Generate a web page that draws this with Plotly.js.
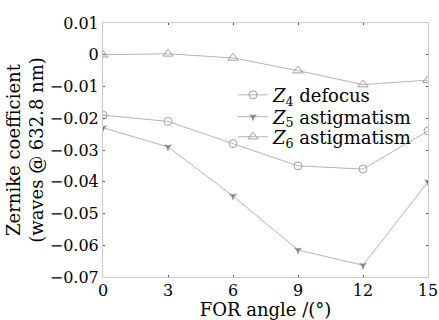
<!DOCTYPE html>
<html>
<head>
<meta charset="utf-8">
<script src="https://cdn.plot.ly/plotly-3.0.1.min.js"></script>
<style>html,body{margin:0;padding:0;background:#fff;}#chart{width:439px;height:320px;}</style>
</head>
<body>
<div id="chart"></div>
<script>
const angles = [0, 3, 6, 9, 12, 15];
const z4Defocus = [-0.019, -0.021, -0.028, -0.035, -0.036, -0.024];
const z5Astig = [-0.023, -0.029, -0.0445, -0.0615, -0.0663, -0.040];
const z6Astig = [0.0, 0.0003, -0.001, -0.005, -0.0094, -0.008];
const seriesNames = ['<i>Z</i><sub>4</sub> defocus', '<i>Z</i><sub>5</sub> astigmatism', '<i>Z</i><sub>6</sub> astigmatism'];
const xTicks = [0, 3, 6, 9, 12, 15];
const yTicks = [0.01, 0, -0.01, -0.02, -0.03, -0.04, -0.05, -0.06, -0.07];
const yTickText = ['0.01', '0', '\u22120.01', '\u22120.02', '\u22120.03', '\u22120.04', '\u22120.05', '\u22120.06', '\u22120.07'];

const lineColor = '#b4b4b4';
const font = 'DejaVu Serif';

const traces = [
  {x: angles, y: z4Defocus, name: seriesNames[0], mode: 'lines+markers', legend: 'legend',
   line: {color: lineColor, width: 1},
   marker: {symbol: 'circle-open', size: 8, color: '#a0a0a0', line: {width: 1}}},
  {x: angles, y: z5Astig, name: seriesNames[1], mode: 'lines+markers', legend: 'legend2',
   line: {color: lineColor, width: 1},
   marker: {symbol: 'star-triangle-down', size: 5, color: '#858585', line: {width: 0.5, color: '#858585'}}},
  {x: angles, y: z6Astig, name: seriesNames[2], mode: 'lines+markers', legend: 'legend3',
   line: {color: lineColor, width: 1},
   marker: {symbol: 'triangle-up-open', size: 9, color: '#a0a0a0', line: {width: 1}}}
];

function legendAt(yc) {
  return {x: 0.4, y: yc, xanchor: 'left', yanchor: 'middle', bgcolor: 'rgba(0,0,0,0)',
          borderwidth: 0, font: {size: 18, family: font}};
}

const layout = {
  width: 439, height: 320,
  margin: {l: 103, r: 11, t: 23, b: 43},
  paper_bgcolor: '#fff', plot_bgcolor: '#fff',
  font: {family: font, color: '#000', size: 16},
  showlegend: true,
  legend: legendAt(0.716),
  legend2: legendAt(0.63),
  legend3: legendAt(0.551),
  xaxis: {range: [0, 15], tickvals: xTicks, ticktext: xTicks.map(String),
          showgrid: false, zeroline: false, showline: true, linecolor: '#cccccc', linewidth: 1,
          mirror: 'ticks', ticks: 'inside', ticklen: 2, tickcolor: '#555',
          tickfont: {size: 16, family: font}, ticklabelstandoff: -1,
          title: {text: 'FOR angle /(°)', font: {size: 18, family: font}, standoff: 0}},
  yaxis: {range: [-0.07, 0.01], tickvals: yTicks, ticktext: yTickText,
          showgrid: false, zeroline: false, showline: true, linecolor: '#cccccc', linewidth: 1,
          mirror: 'ticks', ticks: 'inside', ticklen: 2, tickcolor: '#555',
          tickfont: {size: 16, family: font}, ticklabelstandoff: 0,
          title: {text: 'Zernike coefficient<br>(waves @ 632.8 nm)', font: {size: 18, family: font}, standoff: 1}}
};

Plotly.newPlot('chart', traces, layout, {displayModeBar: false, staticPlot: true});
</script>
</body>
</html>
